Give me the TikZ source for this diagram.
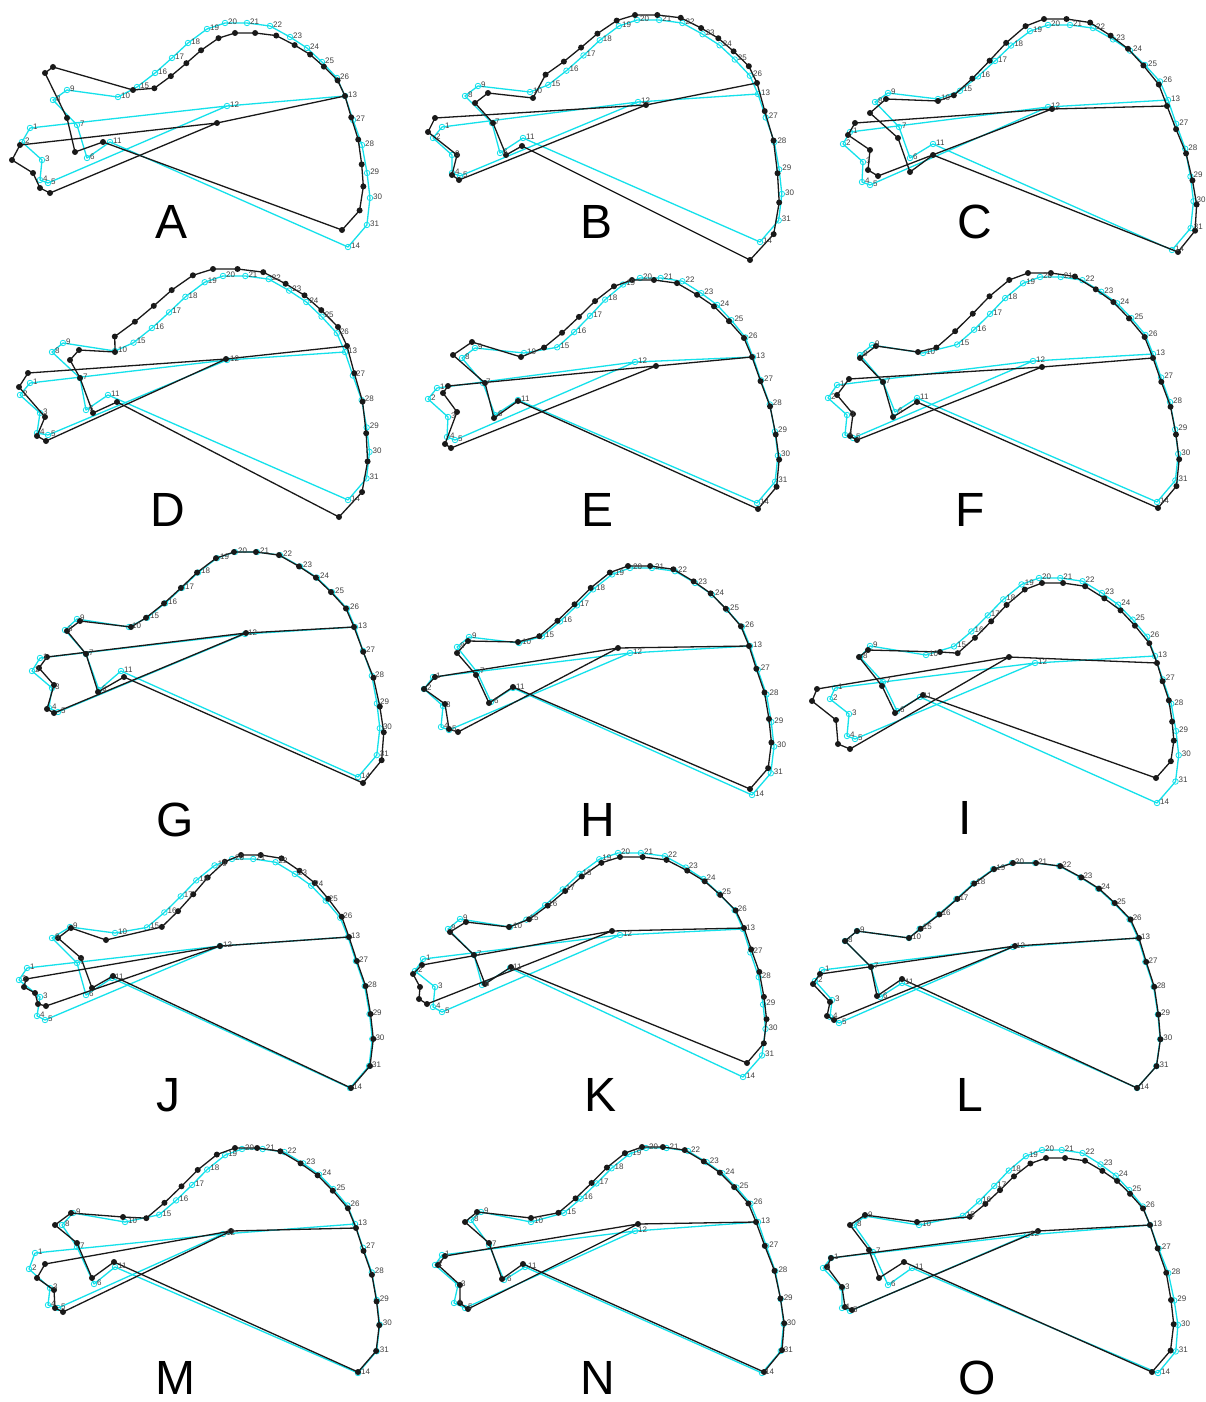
\documentclass[tikz,border=0pt]{standalone}
\usepackage{fontspec}
\setmainfont{Liberation Sans}
\usetikzlibrary{calc}

\definecolor{shapecyan}{RGB}{20,225,235}
\definecolor{shapeblack}{RGB}{25,25,25}

% landmarks 1-14 and 20 are given, the outline 15-31 follows them
\newcommand\landmarkset[2]{%
  \foreach \x/\y [count=\i] in {#2} {
    \ifnum\i=15 \coordinate (#1-20) at (\x,\y);
    \else \coordinate (#1-\i) at (\x,\y); \fi
  }
  \foreach \lmk/\fu/\fv in {15/1.733/0.123, 16/1.583/0.315, 17/1.442/0.521, 18/1.308/0.726,
      19/1.15/0.918, 21/0.817/1.0, 22/0.625/0.959, 23/0.458/0.808, 24/0.317/0.658,
      25/0.192/0.466, 26/0.067/0.247} {
    \path let \p1=(#1-13), \p2=(#1-20) in
      coordinate (#1-\lmk) at ({\x1+\fu*(\x2-\x1)},{\y1+\fv*(\y2-\y1)});
  }
  \foreach \lmk/\ft/\fb in {27/0.159/0.05, 28/0.325/0.106, 29/0.51/0.136, 30/0.675/0.152, 31/0.854/0.128} {
    \path let \p1=(#1-13), \p3=(#1-14) in
      coordinate (#1-\lmk) at ({\x1+\ft*(\x3-\x1)+\fb*(\y1-\y3)},{\y1+\ft*(\y3-\y1)});
  }
}

\newcommand\drawshape[3]{%
  \draw[#2] (#1-1) \foreach \j in {2,3,4,5,12,1} {-- (#1-\j)};
  \draw[#2] (#1-12) \foreach \j in {13,27,28,29,30,31,14,11,6,7,8,9,10,15,16,17,18,19,20,21,22,23,24,25,26,13} {-- (#1-\j)};
  \foreach \j in {1,...,31} \node[#3] (#1-\j-mk) at (#1-\j) {};
}

\begin{document}
\begin{tikzpicture}[
  x=1pt, y=-1pt,
  cyanline/.style={draw=shapecyan, line width=1.3pt, line join=round},
  blackline/.style={draw=shapeblack, line width=1.3pt, line join=round},
  cyanmark/.style={circle, draw=shapecyan, line width=0.8pt, minimum size=5.5pt, inner sep=0pt},
  blackmark/.style={circle, fill=shapeblack, minimum size=6pt, inner sep=0pt},
  numlabel/.style={font=\fontsize{8}{9}\selectfont, text=black!75, anchor=west, inner sep=0.5pt, xshift=2.5pt, yshift=1.5pt},
  panellabel/.style={font=\fontsize{48}{48}\selectfont},
]
\fill[white] (0,0) rectangle (1206,1402);
\useasboundingbox (0,0) rectangle (1206,1402);

% A
\landmarkset{A-c}{30/128,22/142,42/160,40/180,48/183,87/158,77/125,53/100,67/90,118/97,110/142,227/106,345/96,348/247,225/23}
\landmarkset{A-k}{20/145,12/160,33/173,40/188,50/193,75/152,67/118,45/73,53/67,133/90,103/142,217/123,345/96,342/230,235/33}
% B
\landmarkset{B-c}{442/127,433/138,452/155,452/173,460/176,500/153,492/123,465/96,478/86,530/92,523/138,638/102,758/94,760/242,637/20}
\landmarkset{B-k}{435/118,428/132,457/155,452/175,459/180,506/155,493/123,475/103,488/93,533/98,522/146,646/105,757/83,750/260,635/15}
% C
\landmarkset{C-c}{850/132,843/144,863/162,862/182,870/185,910/158,899/127,875/102,888/93,938/99,933/144,1048/107,1168/100,1172/250,1048/25}
\landmarkset{C-k}{855/123,848/135,870/150,868/170,878/176,910/172,898/138,870/113,886/99,938/101,933/155,1052/109,1167/106,1178/252,1044/19}
% D
\landmarkset{D-c}{30/383,20/395,40/413,37/433,48/435,86/410,80/378,52/352,63/343,115/351,108/395,227/360,345/352,348/500,223/276}
\landmarkset{D-k}{28/373,19/387,45/417,37/436,46/441,93/413,80/378,70/360,79/350,115/352,117/402,226/359,347/346,339/517,213/269}
% E
\landmarkset{E-c}{437/388,428/399,448/417,447/437,455/440,495/415,483/383,462/358,475/348,524/353,518/400,635/362,753/357,757/503,640/278}
\landmarkset{E-k}{448/386,443/393,457/412,445/444,451/448,494/418,485/383,453/355,472/342,521/357,518/401,656/366,752/357,758/509,632/280}
% F
\landmarkset{F-c}{837/385,828/398,847/415,845/435,853/438,895/412,883/382,860/355,872/345,923/353,917/398,1033/361,1153/354,1157/502,1040/277}
\landmarkset{F-k}{849/379,837/395,853/414,850/436,857/440,893/417,883/382,860/358,876/346,918/352,917/402,1042/367,1153/358,1158/508,1028/273}
% G
\landmarkset{G-c}{40/658,32/671,52/688,49/708,58/712,99/690,86/654,65/630,77/619,129/627,121/671,245/634,355/627,358/777,235/552}
\landmarkset{G-k}{47/657,39/668,54/685,47/709,54/713,98/692,86/654,67/631,80/621,131/627,124/677,246/633,354/627,363/783,234/552}
% H
\landmarkset{H-c}{433/677,424/689,443/706,441/727,449/730,491/702,477/672,457/647,469/637,519/643,513/688,630/653,750/646,752/795,630/568}
\landmarkset{H-k}{435/677,424/689,445/704,449/729,458/732,489/703,476/675,457/653,468/641,518/642,513/687,618/648,749/646,750/789,628/566}
% I
\landmarkset{I-c}{835/688,830/699,849/714,847/736,855/739,897/711,883/682,860/657,870/646,926/655,920/697,1035/663,1155/656,1157/803,1039/578}
\landmarkset{I-k}{817/689,812/701,836/720,838/744,850/749,895/713,882/686,859/657,868/650,940/652,923/695,1009/657,1157/663,1156/778,1042/583}
% J
\landmarkset{J-c}{27/968,19/980,40/997,37/1016,45/1020,86/995,77/963,52/938,70/927,115/933,112/978,220/946,348/937,350/1088,232/859}
\landmarkset{J-k}{26/979,24/987,35/993,38/1004,46/1006,92/988,81/958,58/938,71/928,106/940,113/976,220/946,349/937,351/1088,241/855}
% K
\landmarkset{K-c}{423/959,415/971,435/987,433/1007,442/1012,482/985,474/955,448/929,460/919,510/927,510/968,620/935,743/929,743/1077,618/853}
\landmarkset{K-k}{422/965,413/974,420/987,419/999,427/1004,485/984,474/955,450/932,466/922,509/927,511/967,612/931,744/928,747/1063,620/857}
% L
\landmarkset{L-c}{822/970,815/981,832/1000,830/1017,839/1023,880/997,871/967,845/941,857/931,909/938,902/983,1013/947,1138/938,1137/1088,1012/863}
\landmarkset{L-k}{820/974,813/984,830/1002,827/1016,834/1020,877/996,871/967,845/941,857/931,909/938,902/979,1015/946,1139/938,1137/1088,1013/863}
% M
\landmarkset{M-c}{35/1253,29/1269,50/1288,48/1305,58/1308,94/1284,77/1247,62/1225,73/1213,125/1222,115/1267,223/1234,355/1224,358/1373,242/1149}
\landmarkset{M-k}{45/1264,37/1278,54/1290,55/1308,63/1312,92/1278,77/1243,55/1225,71/1213,123/1217,114/1262,231/1231,356/1228,358/1372,235/1148}
% N
\landmarkset{N-c}{442/1255,435/1265,458/1285,454/1303,465/1308,504/1280,489/1245,471/1220,481/1212,531/1222,525/1267,635/1231,758/1222,762/1373,646/1148}
\landmarkset{N-k}{445/1256,438/1265,460/1285,460/1303,468/1309,502/1279,489/1243,465/1222,477/1212,531/1218,523/1264,638/1224,756/1222,764/1372,642/1147}
% O
\landmarkset{O-c}{831/1258,823/1268,842/1288,842/1308,850/1311,888/1285,873/1252,854/1225,865/1216,919/1225,912/1268,1027/1235,1150/1225,1158/1373,1042/1150}
\landmarkset{O-k}{831/1258,827/1267,842/1287,845/1307,852/1310,879/1278,869/1250,850/1225,865/1215,917/1222,904/1262,1038/1231,1150/1225,1152/1372,1046/1158}

% cyan first, black on top
\foreach \pnl in {A,...,O} \drawshape{\pnl-c}{cyanline}{cyanmark};
\foreach \pnl in {A,...,O} \drawshape{\pnl-k}{blackline}{blackmark};
\foreach \pnl in {A,...,O} {
  \foreach \j in {1,...,31} \node[numlabel] (\pnl-lab-\j) at (\pnl-c-\j) {\j};
}

\foreach \pnl/\px/\py in {A/172/222, B/596/222, C/975/222, D/168/510, E/597/510, F/970/510,
    G/175/820, H/598/820, I/965/818, J/168/1095, K/600/1095, L/970/1095,
    M/175/1378, N/598/1378, O/977/1378}
  \node[panellabel] (lab-\pnl) at (\px,\py) {\pnl};
\end{tikzpicture}
\end{document}
